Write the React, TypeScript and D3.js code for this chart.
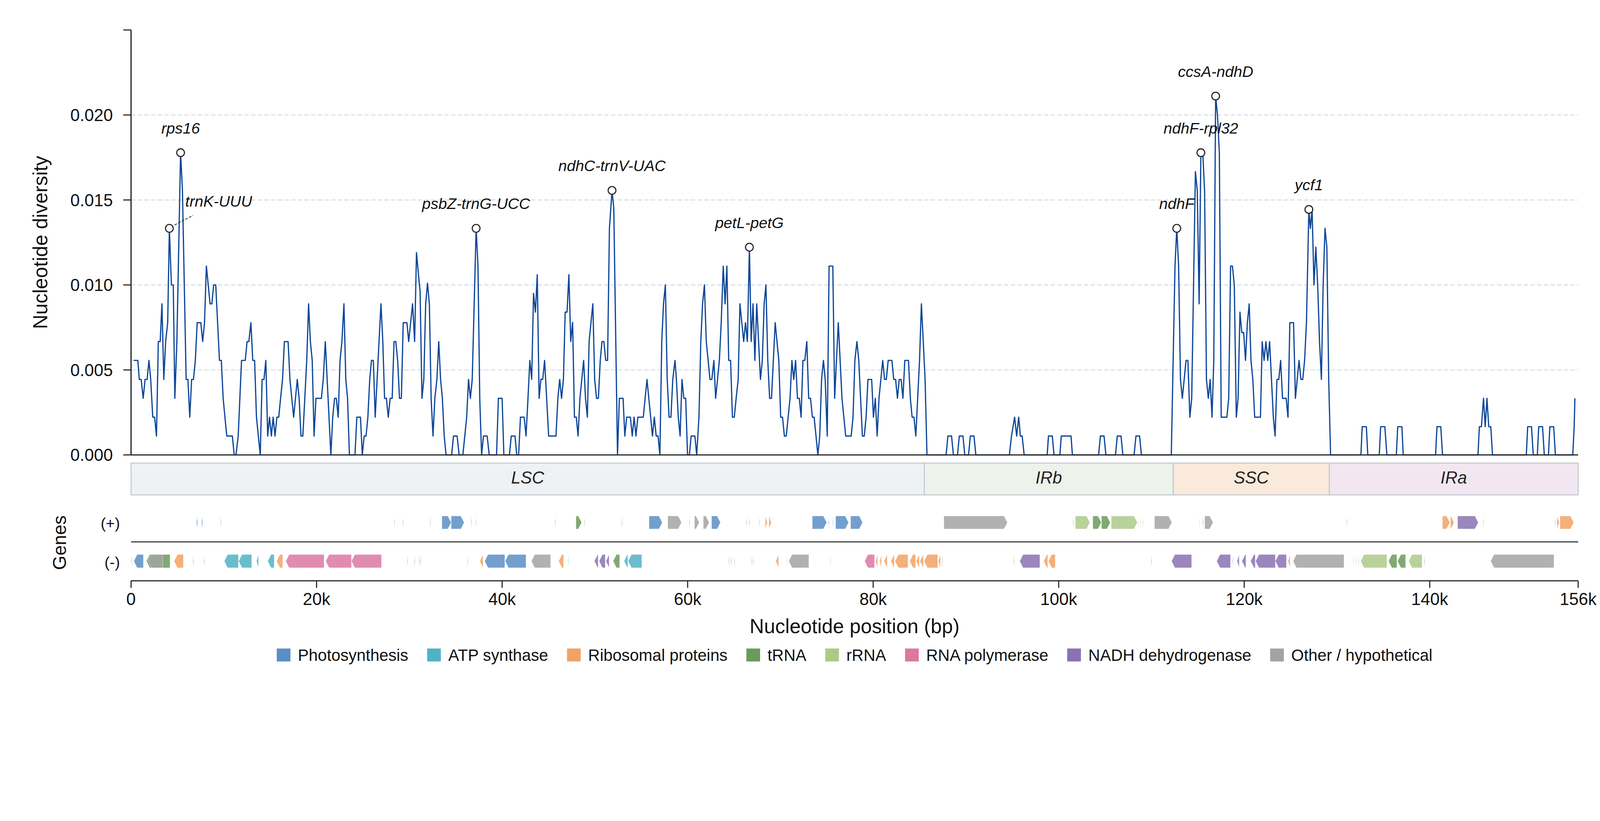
import React, { useEffect, useRef } from "react";
import * as d3 from "d3";

const W = 4322;
const H = 2102;

// ---------- axis ticks ----------
const yTickValues = [0, 0.005, 0.01, 0.015, 0.02, 0.025];
const yTickLabels = ["0.000", "0.005", "0.010", "0.015", "0.020", ""];
const xTickValues = [0, 20000, 40000, 60000, 80000, 100000, 120000, 140000, 156000];
const xTickLabels = ["0", "20k", "40k", "60k", "80k", "100k", "120k", "140k", "156k"];

// ---------- nucleotide diversity (position in kb, Pi) ----------
const diversity: [number, number][] = [
  [0.28, 0.00556], [0.73, 0.00556], [0.89, 0.00444], [1.09, 0.00444], [1.31, 0.00333], [1.51, 0.00444],
  [1.73, 0.00444], [1.93, 0.00556], [2.12, 0.00444], [2.34, 0.00222], [2.54, 0.00222], [2.74, 0.00111],
  [2.94, 0.00667], [3.14, 0.00667], [3.33, 0.00889], [3.53, 0.00444], [3.73, 0.00667], [3.95, 0.00778],
  [4.13, 0.01333], [4.35, 0.01], [4.55, 0.01], [4.72, 0.00333], [4.94, 0.00667], [5.34, 0.01778],
  [5.54, 0.01556], [5.94, 0.00444], [6.13, 0.00444], [6.33, 0.00222], [6.53, 0.00444], [6.73, 0.00444],
  [6.93, 0.00556], [7.13, 0.00778], [7.52, 0.00778], [7.72, 0.00667], [7.92, 0.00778], [8.12, 0.01111],
  [8.52, 0.00889], [8.71, 0.00889], [8.91, 0.01], [9.13, 0.01], [9.53, 0.00556], [9.73, 0.00556],
  [9.93, 0.00333], [10.12, 0.00222], [10.32, 0.00111], [10.92, 0.00111], [11.12, 0], [11.31, 0],
  [11.55, 0.00111], [11.91, 0.00556], [12.31, 0.00556], [12.51, 0.00667], [12.7, 0.00667], [12.92, 0.00778],
  [13.12, 0.00556], [13.32, 0.00556], [13.52, 0.00222], [13.93, 0], [14.13, 0.00444], [14.33, 0.00444],
  [14.53, 0.00556], [14.73, 0.00111], [14.93, 0.00222], [15.13, 0.00111], [15.32, 0.00222], [15.52, 0.00111],
  [15.72, 0.00222], [15.92, 0.00222], [16.12, 0.00333], [16.33, 0.00444], [16.53, 0.00667], [16.93, 0.00667],
  [17.13, 0.00444], [17.33, 0.00333], [17.53, 0.00222], [17.92, 0.00444], [18.12, 0.00333], [18.32, 0.00111],
  [18.52, 0.00111], [18.73, 0.00333], [18.94, 0.00556], [19.14, 0.00889], [19.33, 0.00667], [19.53, 0.00556],
  [19.73, 0.00111], [19.93, 0.00333], [20.52, 0.00333], [20.72, 0.00444], [20.94, 0.00667], [21.54, 0],
  [21.74, 0.00222], [21.94, 0.00333], [22.13, 0.00333], [22.33, 0.00222], [22.53, 0.00556], [22.73, 0.00667],
  [22.95, 0.00889], [23.15, 0.00444], [23.34, 0.00333], [23.54, 0], [24.14, 0], [24.34, 0.00222],
  [24.73, 0.00222], [24.93, 0], [25.13, 0.00111], [25.33, 0.00111], [25.53, 0.00222], [25.73, 0.00444],
  [25.92, 0.00556], [26.12, 0.00556], [26.32, 0.00222], [26.94, 0.00889], [27.14, 0.00667], [27.33, 0.00333],
  [27.53, 0.00333], [27.73, 0.00222], [27.93, 0.00333], [28.15, 0.00333], [28.35, 0.00667], [28.54, 0.00667],
  [28.74, 0.00556], [28.94, 0.00333], [29.14, 0.00333], [29.34, 0.00778], [29.74, 0.00778], [29.93, 0.00667],
  [30.35, 0.00889], [30.57, 0.00667], [30.77, 0.0119], [30.97, 0.0107], [31.16, 0.0096], [31.36, 0.00333],
  [31.56, 0.00444], [31.76, 0.00889], [31.96, 0.0101], [32.16, 0.00889], [32.35, 0.00333], [32.55, 0.00111],
  [32.75, 0.00333], [32.97, 0.00444], [33.17, 0.00667], [33.37, 0.00444], [33.56, 0.00333], [33.76, 0.00111],
  [33.96, 0], [34.56, 0], [34.76, 0.00111], [35.15, 0.00111], [35.37, 0], [35.77, 0],
  [36.18, 0.00222], [36.38, 0.00444], [36.58, 0.00333], [36.78, 0.00444], [37.2, 0.01333], [37.4, 0.01111],
  [37.59, 0.00333], [37.79, 0], [37.99, 0.00111], [38.39, 0.00111], [38.61, 0], [39.4, 0],
  [39.6, 0.00333], [40.0, 0.00333], [40.19, 0], [40.79, 0], [40.99, 0.00111], [41.39, 0.00111],
  [41.58, 0], [41.78, 0], [41.98, 0.00222], [42.38, 0.00222], [42.58, 0.00111], [42.79, 0.00333],
  [42.99, 0.00556], [43.19, 0.00445], [43.39, 0.0095], [43.59, 0.0084], [43.79, 0.0106], [43.99, 0.00333],
  [44.18, 0.00445], [44.38, 0.00445], [44.58, 0.00556], [45.02, 0.00111], [45.81, 0.00111], [46.01, 0.00333],
  [46.21, 0.00444], [46.41, 0.00333], [46.61, 0.00444], [46.8, 0.0084], [47.0, 0.0084], [47.2, 0.0106],
  [47.4, 0.00667], [47.6, 0.0078], [47.8, 0.00222], [48.0, 0.00222], [48.19, 0.00111], [48.39, 0.00333],
  [48.79, 0.00556], [48.99, 0.00333], [49.19, 0.00222], [49.38, 0.00667], [49.78, 0.00889], [49.98, 0.00444],
  [50.18, 0.00333], [50.38, 0.00333], [50.58, 0.00556], [50.77, 0.00667], [50.97, 0.00667], [51.17, 0.00556],
  [51.37, 0.00556], [51.57, 0.01333], [51.85, 0.01556], [52.04, 0.0145], [52.44, 0], [52.64, 0.00333],
  [53.04, 0.00333], [53.23, 0.00111], [53.43, 0.00222], [53.83, 0.00222], [54.03, 0.00111], [54.23, 0.00222],
  [54.43, 0.00111], [54.63, 0.00222], [55.22, 0.00222], [55.62, 0.00444], [56.21, 0.00111], [56.41, 0.00222],
  [56.61, 0.00111], [56.81, 0.00111], [57.01, 0], [57.21, 0.00667], [57.4, 0.00889], [57.6, 0.01],
  [57.8, 0.00444], [58.0, 0.00222], [58.2, 0.00222], [58.4, 0.00444], [58.64, 0.00556], [58.79, 0.00444],
  [58.99, 0.00222], [59.19, 0.00111], [59.39, 0.00444], [59.59, 0.00333], [59.79, 0.00333], [59.99, 0],
  [60.19, 0], [60.38, 0.00111], [60.78, 0.00111], [60.98, 0], [61.22, 0.00222], [61.42, 0.00667],
  [61.61, 0.00889], [61.81, 0.01], [62.01, 0.00667], [62.21, 0.00556], [62.41, 0.00444], [62.61, 0.00444],
  [62.83, 0.00556], [63.02, 0.00333], [63.22, 0.00444], [63.42, 0.00556], [63.62, 0.00778], [63.84, 0.01111],
  [64.04, 0.00889], [64.23, 0.01111], [64.43, 0.00556], [64.63, 0.00556], [64.83, 0.00222], [65.03, 0.00222],
  [65.23, 0.00333], [65.45, 0.00444], [65.64, 0.00889], [65.84, 0.00778], [66.04, 0.00667], [66.24, 0.00778],
  [66.44, 0.00667], [66.66, 0.01222], [66.85, 0.00667], [67.05, 0.00889], [67.25, 0.00556], [67.45, 0.00889],
  [67.65, 0.00667], [67.85, 0.00444], [68.05, 0.00556], [68.25, 0.00889], [68.44, 0.01], [68.64, 0.00556],
  [68.84, 0.00333], [69.04, 0.00333], [69.44, 0.00778], [69.83, 0.00556], [70.03, 0.00222], [70.23, 0.00222],
  [70.43, 0.00111], [70.63, 0.00111], [71.04, 0.00333], [71.24, 0.00556], [71.44, 0.00444], [71.64, 0.00556],
  [71.84, 0.00333], [72.04, 0.00333], [72.23, 0.00222], [72.43, 0.00556], [72.63, 0.00556], [72.85, 0.00667],
  [73.05, 0.00333], [73.25, 0.00333], [73.45, 0.00222], [73.64, 0.00222], [74.04, 0], [74.24, 0.00111],
  [74.44, 0.00444], [74.64, 0.00556], [74.83, 0.00444], [75.05, 0.00111], [75.25, 0.01111], [75.65, 0.01111],
  [75.85, 0.00333], [76.24, 0.00778], [76.64, 0.00333], [77.04, 0.00111], [77.63, 0.00111], [77.83, 0.00222],
  [78.03, 0.00556], [78.25, 0.00667], [78.45, 0.00556], [78.84, 0.00111], [79.04, 0.00111], [79.24, 0.00222],
  [79.44, 0.00444], [79.84, 0.00444], [80.03, 0.00222], [80.23, 0.00333], [80.43, 0.00111], [80.63, 0.00333],
  [80.83, 0.00444], [81.03, 0.00556], [81.23, 0.00444], [81.42, 0.00444], [81.62, 0.00556], [82.02, 0.00556],
  [82.22, 0.00444], [82.42, 0.00444], [82.62, 0.00333], [82.81, 0.00444], [83.01, 0.00444], [83.21, 0.00333],
  [83.41, 0.00556], [83.81, 0.00556], [84.01, 0.00333], [84.2, 0.00222], [84.4, 0.00222], [84.6, 0.00111],
  [85.0, 0.00556], [85.2, 0.00889], [85.6, 0.00444], [85.8, 0], [87.86, 0], [88.06, 0.00111],
  [88.45, 0.00111], [88.65, 0], [89.09, 0], [89.29, 0.00111], [89.68, 0.00111], [89.88, 0],
  [90.28, 0], [90.48, 0.00111], [90.87, 0.00111], [91.07, 0], [94.69, 0], [94.91, 0.00111],
  [95.25, 0.00222], [95.47, 0.00111], [95.69, 0.00222], [95.87, 0.00111], [96.06, 0.00111], [96.28, 0],
  [98.76, 0], [98.9, 0.00111], [99.31, 0.00111], [99.5, 0], [100.13, 0], [100.28, 0.00111],
  [101.33, 0.00111], [101.48, 0], [104.3, 0], [104.5, 0.00111], [104.89, 0.00111], [105.09, 0],
  [106.12, 0], [106.32, 0.00111], [106.72, 0.00111], [106.92, 0], [108.13, 0], [108.33, 0.00111],
  [108.72, 0.00111], [108.92, 0], [112.14, 0], [112.54, 0.01111], [112.73, 0.01333], [112.93, 0.01111],
  [113.13, 0.00444], [113.33, 0.00333], [113.73, 0.00556], [113.93, 0.00556], [114.14, 0.00222], [114.34, 0.00333],
  [114.74, 0.01667], [114.94, 0.01556], [115.14, 0.00889], [115.33, 0.01778], [115.53, 0.01778], [115.73, 0.01556],
  [115.93, 0.00444], [116.13, 0.00333], [116.33, 0.00444], [116.53, 0.00222], [116.72, 0.00556], [116.92, 0.02111],
  [117.12, 0.02], [117.32, 0.01778], [117.52, 0.00222], [118.13, 0.00222], [118.33, 0.00333], [118.53, 0.01111],
  [118.73, 0.01111], [118.93, 0.01], [119.15, 0.00222], [119.34, 0.00333], [119.54, 0.0084], [119.74, 0.0072],
  [119.94, 0.0072], [120.14, 0.00556], [120.34, 0.00778], [120.54, 0.00889], [120.73, 0.00556], [120.93, 0.00444],
  [121.13, 0.00222], [121.75, 0.00222], [121.94, 0.00667], [122.14, 0.00556], [122.34, 0.00667], [122.54, 0.00556],
  [122.74, 0.00667], [122.94, 0.00444], [123.14, 0.00222], [123.33, 0.00111], [123.53, 0.00444], [123.73, 0.00444],
  [123.93, 0.00556], [124.13, 0.00333], [124.52, 0.00333], [124.72, 0.00222], [124.92, 0.00778], [125.32, 0.00778],
  [125.52, 0.00333], [125.91, 0.00556], [126.11, 0.00444], [126.31, 0.00444], [126.51, 0.00556], [126.71, 0.00778],
  [126.97, 0.01444], [127.13, 0.01333], [127.32, 0.01444], [127.52, 0.01], [127.72, 0.01222], [127.92, 0.01],
  [128.12, 0.00667], [128.32, 0.00444], [128.51, 0.01], [128.71, 0.01333], [128.91, 0.01222], [129.11, 0.00444],
  [129.31, 0], [132.58, 0], [132.72, 0.00166], [133.17, 0.00166], [133.32, 0], [134.56, 0],
  [134.71, 0.00166], [135.16, 0.00166], [135.38, 0], [136.4, 0], [136.55, 0.00166], [137.0, 0.00166],
  [137.14, 0], [140.63, 0], [140.78, 0.00166], [141.19, 0.00166], [141.38, 0], [145.2, 0],
  [145.35, 0.00166], [145.57, 0.00166], [145.8, 0.00333], [145.98, 0.00166], [146.17, 0.00333], [146.36, 0.00166],
  [146.58, 0.00166], [146.77, 0], [150.41, 0], [150.56, 0.00166], [150.97, 0.00166], [151.16, 0],
  [151.6, 0], [151.75, 0.00166], [152.16, 0.00166], [152.35, 0], [152.8, 0], [152.95, 0.00166],
  [153.36, 0.00166], [153.55, 0], [155.42, 0], [155.57, 0.00166], [155.65, 0.00333],
];

// ---------- highlighted peaks ----------
const peakNames = ["trnK-UUU", "rps16", "psbZ-trnG-UCC", "ndhC-trnV-UAC", "petL-petG", "ndhF", "ndhF-rpl32", "ccsA-ndhD", "ycf1"];
const peakKb = [4.13, 5.34, 37.2, 51.85, 66.66, 112.73, 115.33, 116.92, 126.97];

// ---------- regions ----------
const regionNames = ["LSC", "IRb", "SSC", "IRa"];
const regionStartKb = [0, 85.51, 112.35, 129.18];
const regionEndKb = [85.51, 112.35, 129.18, 156];
const regionColors = ["#eef2f5", "#edf2ea", "#f9eadb", "#f2e7f1"];

// ---------- gene categories ----------
const categoryKeys = ["ps", "atp", "rib", "trna", "rrna", "rpo", "ndh", "oth"];
const categoryLabels = ["Photosynthesis", "ATP synthase", "Ribosomal proteins", "tRNA", "rRNA", "RNA polymerase", "NADH dehydrogenase", "Other / hypothetical"];
const categoryColors = ["#5a8ec6", "#4fb3c4", "#f2a263", "#6a9a5c", "#abca88", "#dd77a2", "#8a71b3", "#a3a3a3"];

// ---------- genes (start kb, end kb, category) ----------
const plusGenes: [number, number, string][] = [
  [7.07, 7.18, "ps"], [7.62, 7.73, "ps"], [9.66, 9.72, "trna"], [28.37, 28.43, "trna"], [29.29, 29.35, "ps"],
  [32.23, 32.29, "trna"], [33.51, 34.51, "ps"], [34.51, 35.91, "ps"], [36.69, 36.75, "ps"], [37.17, 37.23, "ps"],
  [45.71, 45.77, "trna"], [47.96, 48.58, "trna"], [48.85, 48.91, "trna"], [52.9, 52.96, "trna"], [55.84, 57.27, "ps"],
  [57.86, 59.34, "oth"], [60.19, 60.25, "ps"], [60.74, 61.25, "oth"], [61.69, 62.32, "oth"], [62.58, 63.54, "ps"],
  [66.34, 66.4, "ps"], [66.64, 66.7, "ps"], [67.71, 67.77, "ps"], [68.37, 68.59, "rib"], [68.77, 69.03, "rib"],
  [73.44, 74.99, "ps"], [75.18, 75.24, "ps"], [75.62, 75.68, "ps"], [75.95, 77.35, "ps"], [77.57, 78.86, "ps"],
  [87.62, 94.47, "oth"], [101.55, 101.61, "trna"], [101.8, 103.36, "rrna"], [103.68, 104.59, "trna"], [104.62, 105.56, "trna"],
  [105.67, 108.48, "rrna"], [108.56, 108.62, "rrna"], [108.82, 108.88, "rrna"], [109.07, 109.13, "rrna"], [110.33, 112.2, "oth"],
  [115.17, 115.23, "rib"], [115.53, 115.59, "trna"], [115.74, 116.64, "oth"], [131.05, 131.11, "trna"], [141.37, 142.17, "rib"],
  [142.24, 142.63, "rib"], [143.0, 145.23, "ndh"], [145.78, 145.84, "trna"], [153.51, 153.57, "trna"], [153.72, 153.97, "rib"],
  [154.04, 155.52, "rib"],
];
const minusGenes: [number, number, string][] = [
  [0.04, 0.1, "trna"], [0.3, 1.33, "ps"], [1.66, 4.2, "trna"], [1.84, 3.43, "oth"], [4.64, 5.64, "rib"],
  [6.67, 6.73, "trna"], [7.85, 7.91, "trna"], [10.05, 11.57, "atp"], [11.6, 13.0, "atp"], [13.52, 13.74, "atp"],
  [14.73, 15.43, "atp"], [15.69, 16.35, "rib"], [16.68, 20.81, "rpo"], [20.99, 23.76, "rpo"], [23.76, 27.0, "rpo"],
  [29.77, 29.83, "ps"], [30.54, 30.6, "trna"], [31.02, 31.08, "trna"], [31.17, 31.23, "trna"], [36.25, 36.31, "trna"],
  [37.6, 37.95, "rib"], [38.12, 40.29, "ps"], [40.33, 42.58, "ps"], [43.16, 45.23, "oth"], [46.1, 46.63, "rib"],
  [47.11, 47.17, "trna"], [49.95, 50.35, "ndh"], [50.46, 51.12, "ndh"], [51.2, 51.53, "ndh"], [51.97, 52.67, "trna"],
  [53.15, 53.55, "atp"], [53.59, 55.06, "atp"], [64.43, 64.49, "ps"], [64.65, 64.71, "ps"], [65.02, 65.08, "ps"],
  [66.89, 66.95, "trna"], [67.08, 67.14, "trna"], [69.5, 69.8, "rib"], [70.65, 70.71, "rib"], [70.9, 73.07, "oth"],
  [75.37, 75.43, "oth"], [79.08, 80.15, "rpo"], [80.26, 80.48, "rib"], [80.7, 80.88, "rib"], [81.18, 81.51, "rib"],
  [81.91, 82.28, "rib"], [82.36, 83.75, "rib"], [83.94, 84.57, "rib"], [84.64, 84.97, "rib"], [85.04, 85.41, "rib"],
  [85.49, 86.96, "rib"], [87.03, 87.25, "rib"], [87.44, 87.5, "trna"], [95.14, 95.2, "trna"], [95.8, 97.97, "ndh"],
  [98.38, 98.82, "rib"], [98.89, 99.63, "rib"], [109.97, 110.03, "trna"], [112.17, 114.33, "ndh"], [117.04, 118.52, "ndh"],
  [118.74, 118.8, "ps"], [119.24, 119.46, "ndh"], [119.75, 120.18, "ndh"], [120.69, 121.19, "ndh"], [121.23, 123.36, "ndh"],
  [123.36, 124.55, "ndh"], [124.73, 124.95, "rib"], [125.27, 130.76, "oth"], [131.74, 131.8, "rrna"], [132.03, 132.09, "rrna"],
  [132.32, 132.38, "rrna"], [132.56, 135.38, "rrna"], [135.56, 136.46, "trna"], [136.53, 137.4, "trna"], [137.73, 139.17, "rrna"],
  [139.39, 139.45, "trna"], [146.57, 153.39, "oth"],
];

const FONT = "'Liberation Sans', Arial, Helvetica, sans-serif";
const INK = "#262626";

export default function App() {
  const ref = useRef<SVGSVGElement>(null);

  useEffect(() => {
    document.body.style.margin = "0";
    document.body.style.overflow = "hidden";
    const svg = d3.select(ref.current);
    svg.selectAll("*").remove();
    svg.attr("font-family", FONT);

    const left = 354;
    const right = 4263;
    const plotTop = 81;
    const plotBottom = 1229;
    const bandTop = 1251;
    const bandBottom = 1337;
    const plusTop = 1394;
    const plusBottom = 1429;
    const sepY = 1464;
    const minusTop = 1498;
    const minusBottom = 1534;
    const axisY = 1569;

    const x = d3.scaleLinear().domain([0, 156000]).range([left, right]);
    const y = d3.scaleLinear().domain([0, 0.025]).range([plotBottom, plotTop]);

    svg.append("rect").attr("width", W).attr("height", H).attr("fill", "#ffffff");

    // grid
    const grid = svg.append("g");
    yTickValues.filter((v) => v > 0 && v < 0.025).forEach((v) => {
      grid.append("line")
        .attr("x1", left).attr("x2", right)
        .attr("y1", y(v)).attr("y2", y(v))
        .attr("stroke", "#d3dce3").attr("stroke-width", 2.5)
        .attr("stroke-dasharray", "12,6");
    });

    // diversity line
    const line = d3.line<[number, number]>()
      .x((d) => x(d[0] * 1000))
      .y((d) => y(d[1]));
    svg.append("path")
      .datum(diversity)
      .attr("d", line)
      .attr("fill", "none")
      .attr("stroke", "#0d4699")
      .attr("stroke-width", 3.3)
      .attr("stroke-linejoin", "round");

    // left axis
    const yAxis = svg.append("g");
    yAxis.append("line").attr("x1", left).attr("x2", left).attr("y1", plotTop).attr("y2", plotBottom)
      .attr("stroke", INK).attr("stroke-width", 3.3);
    yTickValues.forEach((v, i) => {
      yAxis.append("line").attr("x1", left - 21).attr("x2", left).attr("y1", y(v)).attr("y2", y(v))
        .attr("stroke", INK).attr("stroke-width", 3);
      if (yTickLabels[i]) {
        yAxis.append("text").attr("x", left - 49).attr("y", y(v) + 16.5)
          .attr("text-anchor", "end").attr("font-size", 46).attr("fill", "#111")
          .text(yTickLabels[i]);
      }
    });
    svg.append("line").attr("x1", left).attr("x2", right).attr("y1", plotBottom).attr("y2", plotBottom)
      .attr("stroke", INK).attr("stroke-width", 3.3);

    svg.append("text")
      .attr("transform", `translate(128,${(plotTop + plotBottom) / 2}) rotate(-90)`)
      .attr("text-anchor", "middle").attr("font-size", 54).attr("fill", "#111")
      .text("Nucleotide diversity");

    // peak markers and labels
    const peaks = svg.append("g");
    peakNames.forEach((name, i) => {
      const target = peakKb[i];
      let best = diversity[0];
      diversity.forEach((d) => {
        if (Math.abs(d[0] - target) < Math.abs(best[0] - target)) best = d;
      });
      const px = x(best[0] * 1000);
      const py = y(best[1]);
      if (name === "trnK-UUU") {
        peaks.append("line")
          .attr("x1", px + 14).attr("y1", py - 9)
          .attr("x2", px + 64).attr("y2", py - 35)
          .attr("stroke", "#333").attr("stroke-width", 2.2)
          .attr("stroke-dasharray", "7,4");
        peaks.append("text").attr("x", px + 43).attr("y", py - 59)
          .attr("font-size", 41.7).attr("font-style", "italic").attr("fill", "#111")
          .text(name);
      } else {
        peaks.append("text").attr("x", px).attr("y", py - 52)
          .attr("text-anchor", "middle")
          .attr("font-size", 41.7).attr("font-style", "italic").attr("fill", "#111")
          .text(name);
      }
      peaks.append("circle").attr("cx", px).attr("cy", py).attr("r", 10.5)
        .attr("fill", "#ffffff").attr("stroke", INK).attr("stroke-width", 3);
    });

    // region band
    const band = svg.append("g");
    regionNames.forEach((name, i) => {
      const x0 = x(regionStartKb[i] * 1000);
      const x1 = x(regionEndKb[i] * 1000);
      band.append("rect").attr("x", x0).attr("y", bandTop).attr("width", x1 - x0).attr("height", bandBottom - bandTop)
        .attr("fill", regionColors[i]).attr("stroke", "#bcc5cd").attr("stroke-width", 2.5);
      band.append("text").attr("x", (x0 + x1) / 2).attr("y", 1306)
        .attr("text-anchor", "middle").attr("font-size", 46).attr("font-style", "italic").attr("fill", "#222")
        .text(name);
    });

    // genes
    const colorOf = (k: string) => categoryColors[categoryKeys.indexOf(k)];
    const head = 9;
    const geneG = svg.append("g");
    const drawGene = (g: [number, number, string], strand: number) => {
      const x0 = x(g[0] * 1000);
      const x1 = x(g[1] * 1000);
      const w = Math.max(x1 - x0, 1.2);
      const h = Math.min(head, w);
      const top = strand > 0 ? plusTop : minusTop;
      const bot = strand > 0 ? plusBottom : minusBottom;
      const mid = (top + bot) / 2;
      let pts: [number, number][];
      if (strand > 0) {
        pts = [[x0, top], [x0 + w - h, top], [x0 + w, mid], [x0 + w - h, bot], [x0, bot]];
      } else {
        pts = [[x0 + w, top], [x0 + h, top], [x0, mid], [x0 + h, bot], [x0 + w, bot]];
      }
      geneG.append("path")
        .attr("d", "M" + pts.map((p) => p.join(",")).join("L") + "Z")
        .attr("fill", colorOf(g[2])).attr("fill-opacity", 0.85)
        .attr("stroke", "#ffffff").attr("stroke-width", 0.8).attr("stroke-opacity", 0.8);
    };
    plusGenes.forEach((g) => drawGene(g, 1));
    minusGenes.forEach((g) => drawGene(g, -1));

    svg.append("line").attr("x1", left).attr("x2", right).attr("y1", sepY).attr("y2", sepY)
      .attr("stroke", "#333").attr("stroke-width", 3);

    svg.append("text").attr("x", 324).attr("y", 1428).attr("text-anchor", "end")
      .attr("font-size", 41.7).attr("fill", "#111").text("(+)");
    svg.append("text").attr("x", 324).attr("y", 1533).attr("text-anchor", "end")
      .attr("font-size", 41.7).attr("fill", "#111").text("(-)");
    svg.append("text")
      .attr("transform", `translate(178,1466) rotate(-90)`)
      .attr("text-anchor", "middle").attr("font-size", 50).attr("fill", "#111")
      .text("Genes");

    // bottom x axis
    const xAxis = svg.append("g");
    xAxis.append("line").attr("x1", left).attr("x2", right).attr("y1", axisY).attr("y2", axisY)
      .attr("stroke", INK).attr("stroke-width", 3.3);
    xTickValues.forEach((v, i) => {
      xAxis.append("line").attr("x1", x(v)).attr("x2", x(v)).attr("y1", axisY).attr("y2", axisY + 19)
        .attr("stroke", INK).attr("stroke-width", 3);
      xAxis.append("text").attr("x", x(v)).attr("y", 1635)
        .attr("text-anchor", "middle").attr("font-size", 46).attr("fill", "#111")
        .text(xTickLabels[i]);
    });
    svg.append("text").attr("x", (left + right) / 2).attr("y", 1710)
      .attr("text-anchor", "middle").attr("font-size", 54).attr("fill", "#111")
      .text("Nucleotide position (bp)");

    // legend
    const legend = svg.append("g");
    const patchW = 37;
    const patchH = 35;
    const textGap = 57;
    const itemGap = 51;
    const items: { g: any; w: number }[] = [];
    categoryLabels.forEach((label, i) => {
      const g = legend.append("g");
      g.append("rect").attr("x", 0).attr("y", 1752).attr("width", patchW).attr("height", patchH)
        .attr("fill", categoryColors[i]);
      const t = g.append("text").attr("x", textGap).attr("y", 1785)
        .attr("font-size", 44).attr("fill", "#111").text(label);
      const tw = (t.node() as SVGTextElement).getComputedTextLength();
      items.push({ g, w: textGap + tw });
    });
    const total = items.reduce((s, it) => s + it.w, 0) + itemGap * (items.length - 1);
    let cx = (left + right) / 2 - total / 2;
    items.forEach((it) => {
      it.g.attr("transform", `translate(${cx},0)`);
      cx += it.w + itemGap;
    });
  }, []);

  return (
    <svg
      ref={ref}
      viewBox={`0 0 ${W} ${H}`}
      preserveAspectRatio="xMinYMin meet"
      style={{ display: "block", width: "100%", height: "auto" }}
    />
  );
}
